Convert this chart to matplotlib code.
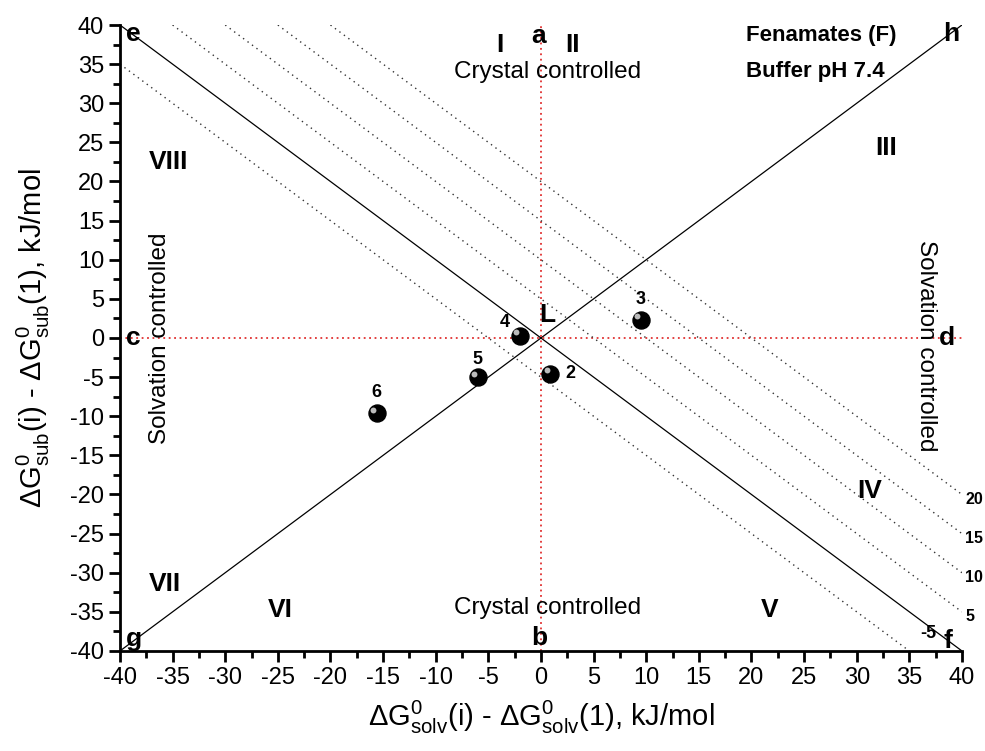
import numpy as np
import matplotlib
matplotlib.use("Agg")
import matplotlib.pyplot as plt
from matplotlib.ticker import MultipleLocator

plt.rcParams['font.family'] = ['Liberation Sans', 'DejaVu Sans']
plt.rcParams['mathtext.fontset'] = 'custom'
plt.rcParams['mathtext.rm'] = 'Liberation Sans'
plt.rcParams['mathtext.it'] = 'Liberation Sans'
plt.rcParams['axes.unicode_minus'] = False

# compounds (relative to compound 1)
compound_ids = ['2', '3', '4', '5', '6']
dG_solv = [0.9, 9.5, -2.0, -6.0, -15.6]
dG_sub = [-4.6, 2.3, 0.3, -5.0, -9.6]

# iso-lines x + y = const
iso_levels = [-5, 5, 10, 15, 20]

lim = 40

fig = plt.figure(figsize=(9.85, 7.51), dpi=100)
ax = fig.add_axes([0.1218, 0.1332, 0.8548, 0.8335])
ax.set_xlim(-lim, lim)
ax.set_ylim(-lim, lim)

# main diagonals through L
xs = np.array([-lim, lim])
ax.plot(xs, -xs, color='black', lw=0.9)
ax.plot(xs, xs, color='black', lw=0.9)

# red cross
ax.plot([0, 0], [-lim, lim], color='#e03030', lw=1.3, ls=(0, (1, 2)))
ax.plot([-lim, lim], [0, 0], color='#e03030', lw=1.3, ls=(0, (1, 2)))

for c in iso_levels:
    x0 = max(-lim, c - lim)
    x1 = min(lim, c + lim)
    ax.plot([x0, x1], [c - x0, c - x1], color='#333333', lw=1.0, ls=(0, (1, 3)))
    if c < 0:
        ax.text(c + lim + 1.0, -lim + 1.2, '%d' % c, fontsize=13, fontweight='bold',
                ha='left', va='bottom')
    else:
        ax.text(lim + 0.3, c - lim - 0.6, '%d' % c, fontsize=11.5, fontweight='bold',
                ha='left', va='center', clip_on=False)

# compounds as shaded balls
ax.scatter(dG_solv, dG_sub, s=150, color='black', zorder=5)
ax.scatter(np.array(dG_solv) - 0.35, np.array(dG_sub) + 0.45, s=18, color='#bbbbbb',
           zorder=6, linewidths=0)
offsets = {'2': (1.9, 0.1), '3': (0.0, 2.6), '4': (-1.4, 1.7), '5': (0.0, 2.3), '6': (0.0, 2.6)}
for cid, x, y in zip(compound_ids, dG_solv, dG_sub):
    dx, dy = offsets[cid]
    ax.text(x + dx, y + dy, cid, fontsize=13, fontweight='bold', ha='center', va='center')

# corner / edge letters
letters = [('a', -0.2, 38.6), ('b', -0.2, -38.3), ('c', -38.7, 0), ('d', 38.6, 0),
           ('e', -38.7, 38.8), ('f', 38.7, -38.7), ('g', -38.7, -38.5), ('h', 39.0, 38.8),
           ('L', 0.6, 3.0)]
for t, x, y in letters:
    ax.text(x, y, t, fontsize=19, fontweight='bold', ha='center', va='center')

regions = [('I', -3.9, 37.5), ('II', 3.0, 37.5), ('III', 32.8, 24.3), ('IV', 31.2, -19.5),
           ('V', 21.7, -34.8), ('VI', -24.8, -34.8), ('VII', -35.7, -31.5),
           ('VIII', -35.4, 22.5)]
for t, x, y in regions:
    ax.text(x, y, t, fontsize=19, fontweight='bold', ha='center', va='center')

ax.text(0.6, 34.0, 'Crystal controlled', fontsize=17.5, ha='center', va='center')
ax.text(0.6, -34.5, 'Crystal controlled', fontsize=17.5, ha='center', va='center')
ax.text(-36.2, 0.0, 'Solvation controlled', fontsize=17.5, ha='center', va='center', rotation=90)
ax.text(36.6, -1.0, 'Solvation controlled', fontsize=17.5, ha='center', va='center', rotation=-90)

ax.text(26.6, 38.7, 'Fenamates (F)', fontsize=16, fontweight='bold', ha='center', va='center')
ax.text(26.1, 34.0, 'Buffer pH 7.4', fontsize=16, fontweight='bold', ha='center', va='center')

# axes styling
for s in ['top', 'right']:
    ax.spines[s].set_visible(False)
for s in ['left', 'bottom']:
    ax.spines[s].set_linewidth(2.0)
ax.xaxis.set_major_locator(MultipleLocator(5))
ax.yaxis.set_major_locator(MultipleLocator(5))
ax.xaxis.set_minor_locator(MultipleLocator(2.5))
ax.yaxis.set_minor_locator(MultipleLocator(2.5))
ax.tick_params(which='major', direction='out', length=8, width=2, labelsize=17)
ax.tick_params(which='minor', direction='out', length=5, width=2)

ax.set_xlabel(r'$\Delta$G$^0_{\rm solv}$(i) - $\Delta$G$^0_{\rm solv}$(1), kJ/mol', fontsize=21, labelpad=7)
ax.set_ylabel(r'$\Delta$G$^0_{\rm sub}$(i) - $\Delta$G$^0_{\rm sub}$(1), kJ/mol', fontsize=21, labelpad=13)

fig.savefig('out.png', dpi=100)
